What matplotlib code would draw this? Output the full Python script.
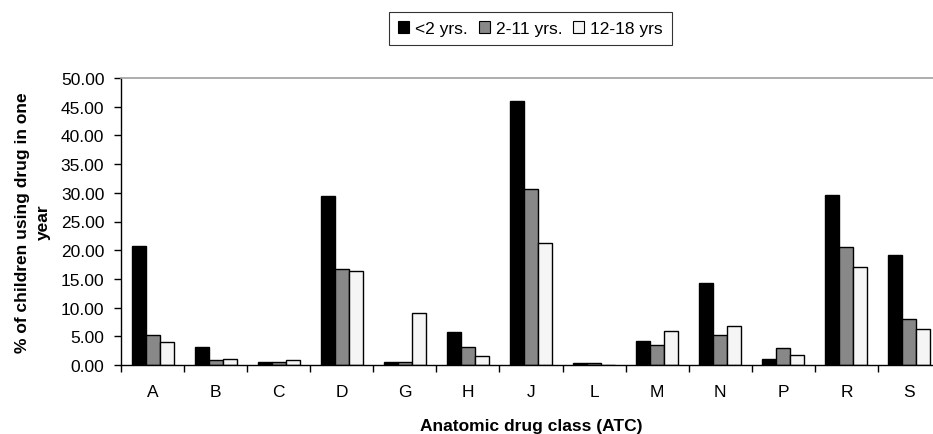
import numpy as np
import matplotlib
matplotlib.use('Agg')
import matplotlib.pyplot as plt
from matplotlib.patches import Patch

plt.rcParams['font.family'] = ['Liberation Sans', 'DejaVu Sans']

# data
classes = ['A', 'B', 'C', 'D', 'G', 'H', 'J', 'L', 'M', 'N', 'P', 'R', 'S']
under2 = [20.8, 3.2, 0.5, 29.5, 0.5, 5.8, 46.0, 0.35, 4.1, 14.3, 1.05, 29.7, 19.1]
age2_11 = [5.2, 0.85, 0.5, 16.8, 0.5, 3.05, 30.7, 0.35, 3.5, 5.3, 3.0, 20.5, 8.05]
age12_18 = [3.95, 1.05, 0.8, 16.3, 9.05, 1.55, 21.3, 0.0, 6.0, 6.8, 1.75, 17.05, 6.25]
series_names = ['<2 yrs.', '2-11 yrs.', '12-18 yrs']
yticks = np.arange(0, 50.01, 5)

fills = ['#000000', '#888888', '#f5f5f5']
FS = 12.5

fig = plt.figure(figsize=(9.33, 4.35), dpi=100)
ax = fig.add_axes([121/933, 1-366/435, 820/933, 287/435])

x = np.arange(len(classes))
w = 1/4.5
for k, vals in enumerate([under2, age2_11, age12_18]):
    ax.bar(x + (k-1)*w, vals, width=w, color=fills[k], edgecolor='black',
           linewidth=1.0, label=series_names[k])

ax.set_xlim(-0.5, len(classes)-0.5)
ax.set_ylim(0, 50)
ax.set_yticks(yticks)
ax.set_yticklabels(['%.2f' % v for v in yticks], fontsize=FS)
ax.set_xticks(x)
ax.set_xticklabels(classes, fontsize=FS)
ax.set_xticks(np.arange(len(classes)+1) - 0.5, minor=True)
ax.tick_params(axis='x', which='major', length=0, pad=14)
ax.tick_params(axis='x', which='minor', length=5, width=1, direction='out')
ax.tick_params(axis='y', length=5, width=1, direction='out', pad=7)

ax.spines['right'].set_visible(False)
ax.spines['top'].set_color('#a0a0a0')
ax.spines['top'].set_linewidth(1.2)
ax.spines['left'].set_linewidth(1)
ax.spines['bottom'].set_linewidth(1)

fig.text(33/933, 1-222.5/435, '% of children using drug in one\nyear', rotation=90,
         ha='center', va='center', multialignment='center', fontsize=FS,
         fontweight='bold', linespacing=1.55)
fig.text(531/933, 1-427/435, 'Anatomic drug class (ATC)', ha='center', va='center',
         fontsize=FS, fontweight='bold')

handles = [Patch(facecolor=fills[k], edgecolor='black', linewidth=0.8) for k in range(3)]
leg = fig.legend(handles, series_names, loc='center', bbox_to_anchor=(530.5/933, 1-29.5/435),
                 ncol=3, fontsize=FS, frameon=True, fancybox=False, edgecolor='black',
                 handlelength=0.65, handleheight=0.65, handletextpad=0.35, columnspacing=0.6,
                 borderpad=0.5)
leg.get_frame().set_linewidth(0.8)

fig.savefig('out.png', dpi=100)
